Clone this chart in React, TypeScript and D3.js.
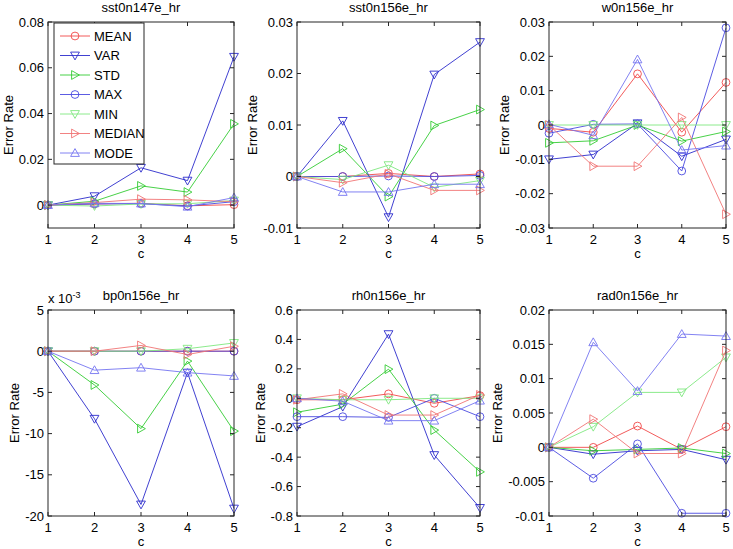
import * as d3 from "d3";

// series in legend order
const seriesNames = ["MEAN", "VAR", "STD", "MAX", "MIN", "MEDIAN", "MODE"];
const seriesColors = ["#f04848", "#2b2bcc", "#33cc33", "#4a4ae0", "#7fe87f", "#f07474", "#7474f0"];
const seriesMarkers = ["circle", "down", "right", "circle", "down", "right", "up"];

const cValues = [1, 2, 3, 4, 5];

// values per series (MEAN, VAR, STD, MAX, MIN, MEDIAN, MODE)
const sst0n147e = [
  [0, 0.0005, 0.0008, -0.0003, 0.0002],
  [0, 0.0039, 0.0163, 0.0107, 0.0648],
  [0, 0.0017, 0.0084, 0.0057, 0.0355],
  [0, 0.0005, 0.0006, -0.0004, 0.0015],
  [0, -0.0004, 0.0005, 0.0006, 0.002],
  [0, 0.0011, 0.0026, 0.0023, 0.0015],
  [0, 0.0008, 0.0007, -0.0007, 0.0033],
];
const sst0n156e = [
  [0, 0, 0.0006, 0, 0.0005],
  [0, 0.0108, -0.0079, 0.0198, 0.0261],
  [0, 0.0054, -0.0039, 0.0099, 0.013],
  [0, 0, 0.0001, 0, 0.0002],
  [0, -0.0006, 0.0022, -0.0021, -0.0008],
  [0, -0.0012, 0.0005, -0.0027, -0.0027],
  [0, -0.003, -0.003, -0.0015, -0.0015],
];
const w0n156e = [
  [-0.001, -0.0021, 0.0149, -0.0021, 0.0124],
  [-0.01, -0.0086, 0.0005, -0.0091, -0.0042],
  [-0.0052, -0.0046, 0, -0.0047, -0.0019],
  [-0.0024, 0.0002, 0.0003, -0.0134, 0.0283],
  [0, 0, 0, 0, 0],
  [0, -0.012, -0.012, 0.0022, -0.026],
  [0.0002, -0.003, 0.0191, -0.0073, -0.006],
];
// shown in units of 10^-3
const bp0n156e = [
  [0, 0, 0, 0, 0],
  [0, -8.2, -18.6, -2.6, -19.1],
  [0, -4.1, -9.4, -1.2, -9.7],
  [0, 0, 0, 0, 0],
  [0, 0, 0, 0.3, 1.0],
  [0, 0, 0.7, -0.4, 0.6],
  [0, -2.3, -2.0, -2.6, -3.0],
];
const rh0n156e = [
  [-0.01, -0.01, 0.03, -0.034, 0.018],
  [-0.193, -0.057, 0.436, -0.386, -0.745],
  [-0.095, -0.04, 0.198, -0.216, -0.5],
  [-0.125, -0.125, -0.13, 0, -0.125],
  [0, -0.01, -0.01, 0, 0],
  [-0.01, 0.03, -0.114, -0.114, 0.023],
  [0, -0.02, -0.152, -0.152, -0.016],
];
const rad0n156e = [
  [0, 0, 0.0031, -0.0003, 0.003],
  [0, -0.001, -0.0005, -0.0003, -0.0018],
  [0, -0.0005, -0.0003, -0.0001, -0.0009],
  [0, -0.0045, 0.0005, -0.0096, -0.0096],
  [0, 0.003, 0.008, 0.008, 0.0131],
  [0, 0.0041, -0.0009, -0.0009, 0.0141],
  [0, 0.0153, 0.0082, 0.0165, 0.0162],
];

const panels = [
  { title: "sst0n147e_hr", data: sst0n147e, domain: [-0.01, 0.08], ticks: [0, 0.02, 0.04, 0.06, 0.08] },
  { title: "sst0n156e_hr", data: sst0n156e, domain: [-0.01, 0.03], ticks: [-0.01, 0, 0.01, 0.02, 0.03] },
  { title: "w0n156e_hr", data: w0n156e, domain: [-0.03, 0.03], ticks: [-0.03, -0.02, -0.01, 0, 0.01, 0.02, 0.03] },
  { title: "bp0n156e_hr", data: bp0n156e, domain: [-20, 5], ticks: [-20, -15, -10, -5, 0, 5], exp: "-3" },
  { title: "rh0n156e_hr", data: rh0n156e, domain: [-0.8, 0.6], ticks: [-0.8, -0.6, -0.4, -0.2, 0, 0.2, 0.4, 0.6] },
  { title: "rad0n156e_hr", data: rad0n156e, domain: [-0.01, 0.02], ticks: [-0.01, -0.005, 0, 0.005, 0.01, 0.015, 0.02] },
];

const COLS = [[48, 234], [297, 480], [549, 726]];
const ROWS = [[22, 228], [310, 516]];
const FONT = "'Liberation Sans', Arial, Helvetica, sans-serif";
const FS = 13;
const AXIS = "#262626";

const fmt = (v: number) => String(+v.toFixed(4));

// rough Arial widths, em units
const textWidth = (s: string) =>
  s.split("").reduce((w, ch) => w + (ch === "." ? 0.278 : ch === "-" ? 0.333 : 0.556), 0) * FS;

function marker(kind: string, x: number, y: number) {
  const a = 4.4, b = 3.4;
  if (kind === "down") return `M${x - a},${y - b}L${x + a},${y - b}L${x},${y + a}Z`;
  if (kind === "up") return `M${x - a},${y + b}L${x + a},${y + b}L${x},${y - a}Z`;
  return `M${x - b},${y - a}L${x - b},${y + a}L${x + a},${y}Z`;
}

function Marker({ kind, x, y, color }: { kind: string; x: number; y: number; color: string }) {
  if (kind === "circle") return <circle cx={x} cy={y} r={3.9} fill="none" stroke={color} strokeWidth={0.9} />;
  return <path d={marker(kind, x, y)} fill="none" stroke={color} strokeWidth={0.9} />;
}

function Panel({ p, idx }: { p: any; idx: number }) {
  const [x0, x1] = COLS[idx % 3];
  const [y0, y1] = ROWS[Math.floor(idx / 3)];
  const x = d3.scaleLinear().domain([1, 5]).range([x0, x1]);
  const y = d3.scaleLinear().domain(p.domain).range([y1, y0]);
  const line = d3.line<number>().x((_, i) => x(cValues[i])).y(d => y(d));
  const tl = 4;
  const maxW = d3.max(p.ticks as number[], t => textWidth(fmt(t)))!;
  const ylx = x0 - 4 - maxW - 6;
  return (
    <g>
      <rect x={x0} y={y0} width={x1 - x0} height={y1 - y0} fill="#fff" />
      {p.data.map((vals: number[], si: number) => (
        <g key={si}>
          <path d={line(vals)!} fill="none" stroke={seriesColors[si]} strokeWidth={0.9} />
          {vals.map((v, i) => (
            <Marker key={i} kind={seriesMarkers[si]} x={x(cValues[i])} y={y(v)} color={seriesColors[si]} />
          ))}
        </g>
      ))}
      <rect x={x0} y={y0} width={x1 - x0} height={y1 - y0} fill="none" stroke={AXIS} strokeWidth={1} />
      {cValues.map(c => (
        <g key={c}>
          <line x1={x(c)} x2={x(c)} y1={y1} y2={y1 - tl} stroke={AXIS} />
          <line x1={x(c)} x2={x(c)} y1={y0} y2={y0 + tl} stroke={AXIS} />
          <text x={x(c)} y={y1 + 16} textAnchor="middle" fontSize={FS} fontFamily={FONT} fill="#000">{c}</text>
        </g>
      ))}
      {(p.ticks as number[]).map(t => (
        <g key={t}>
          <line x1={x0} x2={x0 + tl} y1={y(t)} y2={y(t)} stroke={AXIS} />
          <line x1={x1} x2={x1 - tl} y1={y(t)} y2={y(t)} stroke={AXIS} />
          <text x={x0 - 4} y={y(t)} dy="0.35em" textAnchor="end" fontSize={FS} fontFamily={FONT} fill="#000">{fmt(t)}</text>
        </g>
      ))}
      <text x={(x0 + x1) / 2} y={y0 - 10.5} textAnchor="middle" fontSize={FS} fontFamily={FONT} fill="#000">{p.title}</text>
      <text x={(x0 + x1) / 2} y={y1 + 30} textAnchor="middle" fontSize={FS} fontFamily={FONT} fill="#000">c</text>
      <text transform={`translate(${ylx},${(y0 + y1) / 2}) rotate(-90)`} textAnchor="middle" fontSize={FS} fontFamily={FONT} fill="#000">Error Rate</text>
      {p.exp && (
        <text x={x0} y={y0 - 7} fontSize={FS} fontFamily={FONT} fill="#000">
          x 10<tspan dy={-5} fontSize={9}>{p.exp}</tspan>
        </text>
      )}
    </g>
  );
}

function Legend() {
  const lx = 54, ly = 23, w = 90, h = 141;
  return (
    <g>
      <rect x={lx} y={ly} width={w} height={h} fill="#fff" stroke={AXIS} strokeWidth={1} />
      {seriesNames.map((name, i) => {
        const cy = ly + 13 + i * 19.5;
        return (
          <g key={name}>
            <line x1={lx + 6} x2={lx + 36} y1={cy} y2={cy} stroke={seriesColors[i]} strokeWidth={0.9} />
            <Marker kind={seriesMarkers[i]} x={lx + 21} y={cy} color={seriesColors[i]} />
            <text x={lx + 40} y={cy} dy="0.36em" fontSize={FS} fontFamily={FONT} fill="#000">{name}</text>
          </g>
        );
      })}
    </g>
  );
}

export default function App() {
  return (
    <div style={{ position: "absolute", left: 0, top: 0 }}>
      <svg width={733} height={549} style={{ display: "block", background: "#fff" }}>
        {panels.map((p, i) => (
          <Panel key={p.title} p={p} idx={i} />
        ))}
        <Legend />
      </svg>
    </div>
  );
}
